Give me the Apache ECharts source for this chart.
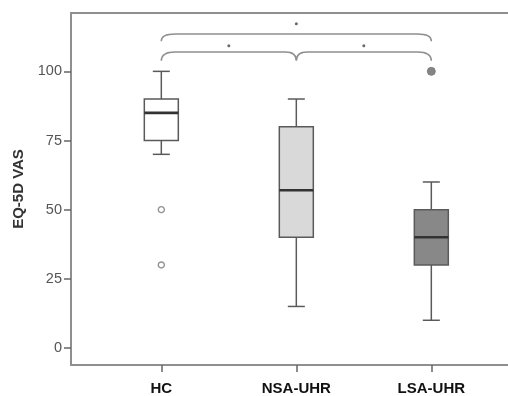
<!DOCTYPE html>
<html lang="en">
<head>
    <meta charset="UTF-8"/>
    <title>EQ-5D VAS boxplot</title>
    <script src="https://cdn.jsdelivr.net/npm/echarts@6.0.0/dist/echarts.min.js"></script>
    <style>
        html, body { margin: 0; padding: 0; background: #fff; }
        #chart { width: 508px; height: 396px; }
    </style>
</head>
<body>
    <div id="chart"></div>
    <script>
        // categories sit at x = 1, 2, 3 on a value axis
        const groups = ['HC', 'NSA-UHR', 'LSA-UHR'];
        const groupX = [1, 2, 3];
        const yTicks = [0, 25, 50, 75, 100];

        // [x, min, Q1, median, Q3, max]
        const boxes = [
            [1, 70, 75, 85, 90, 100],
            [2, 15, 40, 57, 80, 90],
            [3, 10, 30, 40, 50, 60]
        ];
        const boxFills = ['#ffffff', '#d9d9d9', '#888888'];

        const openOutliers = [[1, 50], [1, 30]];
        const filledOutliers = [[3, 100]];

        // significance braces: [from, to, lineY, endY, cuspX (or null)]
        const braces = [
            [1, 3, 113.5, 110.9, null],
            [1, 3, 107.0, 103.8, 2]
        ];
        const sigDots = [[2, 117.2], [1.5, 109.3], [2.5, 109.3]];

        const chart = echarts.init(document.getElementById('chart'));
        const axisGray = '#8f8f8f';

        function renderBox(params, api) {
            const x = api.value(0);
            const pMin = api.coord([x, api.value(1)]);
            const pQ1 = api.coord([x, api.value(2)]);
            const pMed = api.coord([x, api.value(3)]);
            const pQ3 = api.coord([x, api.value(4)]);
            const pMax = api.coord([x, api.value(5)]);
            const cx = pMed[0];
            const hw = 17, cap = 8.5;
            const line = (x1, y1, x2, y2, w, c) => ({
                type: 'line',
                shape: { x1, y1, x2, y2 },
                style: { stroke: c || '#5a5a5a', lineWidth: w || 1.5 }
            });
            return {
                type: 'group',
                children: [
                    line(cx, pMax[1], cx, pQ3[1]),
                    line(cx, pQ1[1], cx, pMin[1]),
                    line(cx - cap, pMax[1], cx + cap, pMax[1]),
                    line(cx - cap, pMin[1], cx + cap, pMin[1]),
                    {
                        type: 'rect',
                        shape: { x: cx - hw, y: pQ3[1], width: hw * 2, height: pQ1[1] - pQ3[1] },
                        style: { fill: boxFills[params.dataIndex], stroke: '#5a5a5a', lineWidth: 1.5 }
                    },
                    line(cx - hw, pMed[1], cx + hw, pMed[1], 2.6, '#333')
                ]
            };
        }

        function renderBrace(params, api) {
            const a = api.coord([api.value(0), api.value(3)]);
            const b = api.coord([api.value(1), api.value(3)]);
            const ly = api.coord([api.value(0), api.value(2)])[1];
            const r = 14;
            let d = `M${a[0]},${a[1]} Q${a[0]},${ly} ${a[0] + r},${ly}`;
            const cuspVal = api.value(4);
            if (cuspVal != null && !isNaN(cuspVal)) {
                const c = api.coord([cuspVal, api.value(3)]);
                const cr = 11;
                d += ` L${c[0] - cr},${ly} Q${c[0]},${ly} ${c[0]},${c[1]}`;
                d += ` Q${c[0]},${ly} ${c[0] + cr},${ly}`;
            }
            d += ` L${b[0] - r},${ly} Q${b[0]},${ly} ${b[0]},${b[1]}`;
            return {
                type: 'path',
                shape: { pathData: d },
                style: { fill: null, stroke: axisGray, lineWidth: 1.6 }
            };
        }

        const xMin = 0.331, xMax = 3.568;

        chart.setOption({
            animation: false,
            backgroundColor: '#fff',
            grid: { left: 71, right: 0, top: 13, bottom: 26 },
            xAxis: [{
                type: 'value',
                min: xMin, max: xMax,
                splitLine: { show: false },
                axisLine: { onZero: false, lineStyle: { color: axisGray, width: 2 } },
                axisTick: { customValues: groupX, length: 7, lineStyle: { color: '#666', width: 1.5 } },
                axisLabel: {
                    customValues: groupX,
                    formatter: v => groups[groupX.indexOf(Math.round(v))] || '',
                    margin: 16,
                    color: '#111',
                    fontWeight: 'bold',
                    fontSize: 15,
                    fontFamily: 'Liberation Sans'
                }
            }, {
                type: 'value',
                position: 'top',
                min: xMin, max: xMax,
                splitLine: { show: false },
                axisLine: { onZero: false, lineStyle: { color: axisGray, width: 2 } },
                axisTick: { show: false },
                axisLabel: { show: false }
            }],
            yAxis: {
                type: 'value',
                min: -6.17, max: 121.1,
                name: 'EQ-5D VAS',
                nameLocation: 'middle',
                nameGap: 45,
                nameTextStyle: { color: '#333', fontWeight: 'bold', fontSize: 15, fontFamily: 'Liberation Sans' },
                splitLine: { show: false },
                axisLine: { show: true, onZero: false, lineStyle: { color: axisGray, width: 2 } },
                axisTick: { customValues: yTicks, length: 7, lineStyle: { color: '#666', width: 1.5 } },
                axisLabel: {
                    customValues: yTicks,
                    margin: 9,
                    color: '#555',
                    fontSize: 14.5,
                    fontFamily: 'Liberation Sans'
                }
            },
            series: [{
                type: 'custom',
                renderItem: renderBox,
                data: boxes,
                encode: { x: 0, y: [1, 2, 3, 4, 5] },
                z: 3
            }, {
                type: 'scatter',
                data: openOutliers,
                symbol: 'circle',
                symbolSize: 6,
                itemStyle: { color: '#fff', borderColor: '#777', borderWidth: 1.4 },
                z: 4
            }, {
                type: 'scatter',
                data: filledOutliers,
                symbol: 'circle',
                symbolSize: 8,
                itemStyle: { color: '#666', borderColor: '#777', borderWidth: 1 },
                z: 4
            }, {
                type: 'custom',
                renderItem: renderBrace,
                data: braces.map(b => b.map(v => v == null ? '-' : v)),
                encode: { x: [0, 1], y: [2, 3] },
                clip: false,
                z: 3
            }, {
                type: 'scatter',
                data: sigDots,
                symbol: 'circle',
                symbolSize: 3,
                itemStyle: { color: '#444' },
                z: 4
            }]
        });
    </script>
</body>
</html>
